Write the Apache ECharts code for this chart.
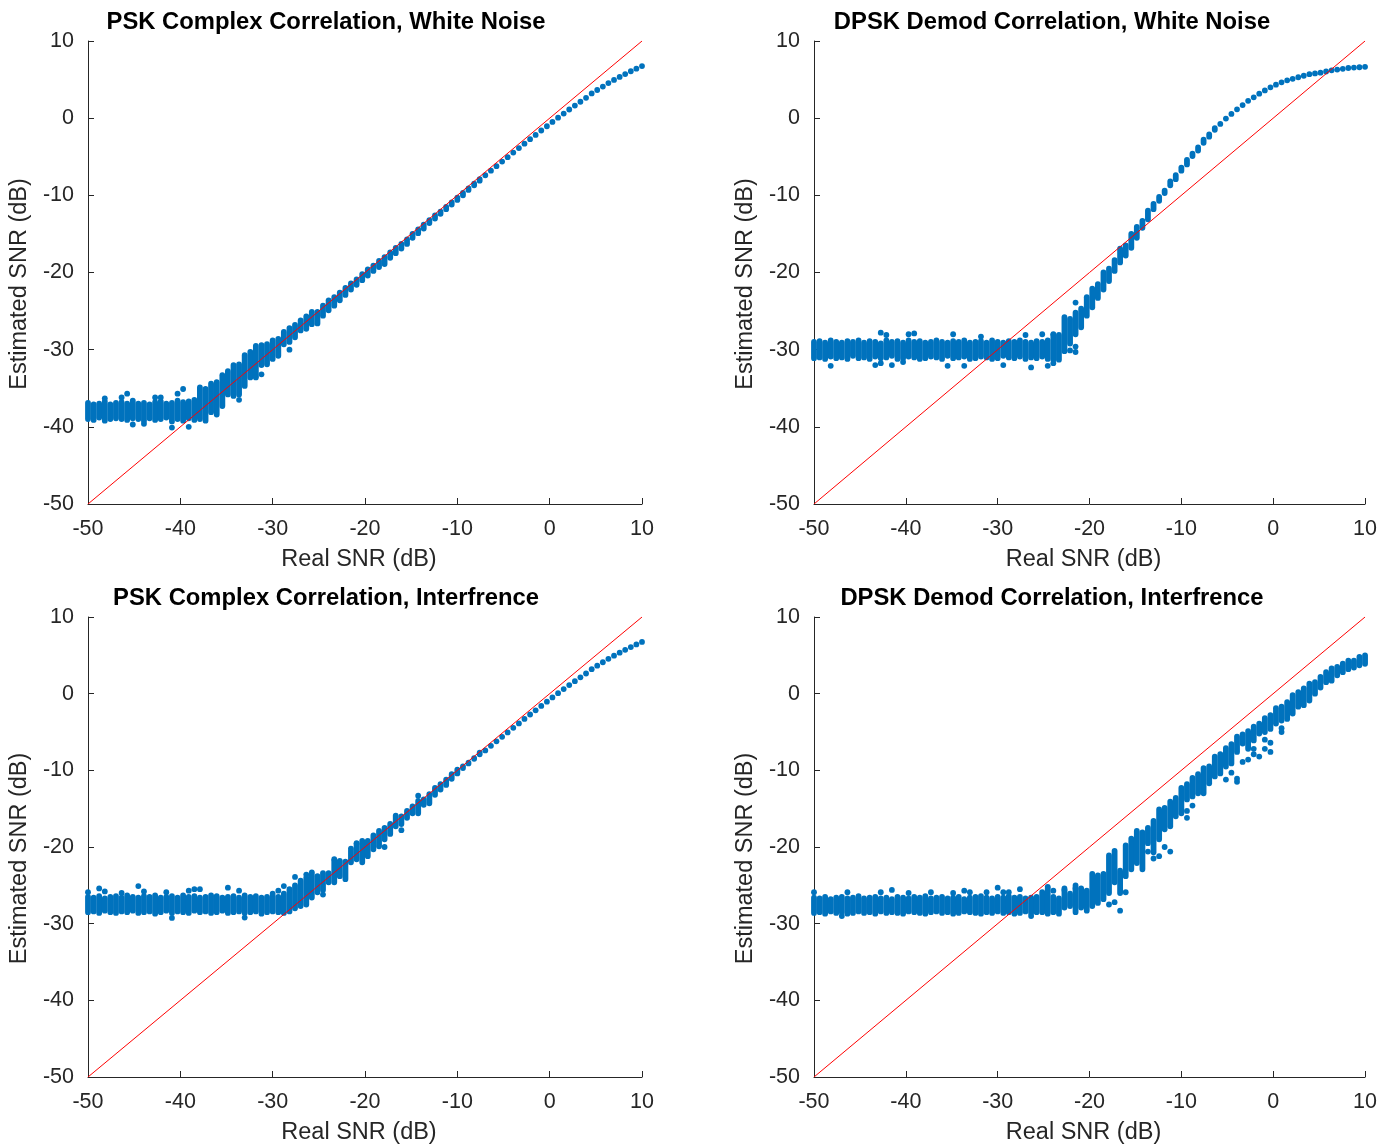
<!DOCTYPE html>
<html><head><meta charset="utf-8">
<script src="https://cdn.jsdelivr.net/npm/echarts@6/dist/echarts.min.js"></script>
<style>html,body{margin:0;padding:0;background:#fff}#c{width:1380px;height:1146px}</style>
</head><body><div id="c"></div>
<script>
// ---- axis ticks ----
const AXIS_TICKS = [-50, -40, -30, -20, -10, 0, 10];
const REF_LINE = [-50, 10];

// ---- real SNR grid (100 trial positions) ----
const SNR_REAL = [
-50.00,-49.39,-48.79,-48.18,-47.58,-46.97,-46.36,-45.76,-45.15,-44.55,
-43.94,-43.33,-42.73,-42.12,-41.52,-40.91,-40.30,-39.70,-39.09,-38.48,
-37.88,-37.27,-36.67,-36.06,-35.45,-34.85,-34.24,-33.64,-33.03,-32.42,
-31.82,-31.21,-30.61,-30.00,-29.39,-28.79,-28.18,-27.58,-26.97,-26.36,
-25.76,-25.15,-24.55,-23.94,-23.33,-22.73,-22.12,-21.52,-20.91,-20.30,
-19.70,-19.09,-18.48,-17.88,-17.27,-16.67,-16.06,-15.45,-14.85,-14.24,
-13.64,-13.03,-12.42,-11.82,-11.21,-10.61,-10.00,-9.39,-8.79,-8.18,
-7.58,-6.97,-6.36,-5.76,-5.15,-4.55,-3.94,-3.33,-2.73,-2.12,
-1.52,-0.91,-0.30,0.30,0.91,1.52,2.12,2.73,3.33,3.94,
4.55,5.15,5.76,6.36,6.97,7.58,8.18,8.79,9.39,10.00];

// ---- PSK complex correlation, white noise: lowest / highest estimate per column ----
const PSK_WN_LO = [
-39.0,-39.1,-38.8,-39.2,-39.0,-38.9,-39.0,-39.1,-38.9,-39.0,
-39.2,-38.9,-39.1,-39.0,-38.8,-39.3,-39.0,-39.2,-38.9,-39.1,
-39.0,-39.2,-38.1,-38.4,-37.3,-35.8,-36.0,-35.8,-34.7,-33.6,
-33.4,-32.0,-31.9,-31.2,-30.8,-29.3,-29.0,-28.4,-27.5,-27.3,
-26.7,-26.6,-25.6,-24.9,-24.3,-23.6,-22.9,-22.2,-21.6,-21.0,
-20.4,-19.8,-19.3,-18.9,-18.1,-17.5,-16.9,-16.3,-15.5,-14.9,
-14.3,-13.6,-13.0,-12.4,-11.8,-11.2,-10.6,-10.0,-9.3,-8.7,
-8.1,-7.4,-6.8,-6.22,-5.63,-5.05,-4.46,-3.88,-3.30,-2.72,
-2.17,-1.60,-1.05,-0.49,0.06,0.60,1.12,1.63,2.13,2.63,
3.2,3.65,4.1,4.55,4.95,5.35,5.72,6.08,6.42,6.75];
const PSK_WN_HI = [
-36.9,-37.1,-37.0,-36.7,-37.1,-36.9,-36.8,-37.0,-36.6,-37.0,
-36.9,-37.1,-36.8,-36.7,-37.0,-36.9,-36.6,-36.8,-36.7,-36.5,
-34.9,-35.1,-34.4,-34.2,-33.3,-32.8,-32.0,-31.9,-30.7,-30.3,
-29.5,-29.4,-29.3,-28.8,-28.6,-27.7,-27.2,-26.8,-26.2,-25.7,
-25.1,-25.1,-24.3,-23.6,-23.2,-22.6,-22.0,-21.4,-20.9,-20.2,
-19.6,-19.1,-18.5,-18.0,-17.4,-16.8,-16.3,-15.7,-15.0,-14.4,
-13.8,-13.2,-12.6,-12.1,-11.5,-10.9,-10.3,-9.7,-9.1,-8.5,
-7.9,-7.4,-6.8,-6.22,-5.63,-5.05,-4.46,-3.88,-3.30,-2.72,
-2.17,-1.60,-1.05,-0.49,0.06,0.60,1.12,1.63,2.13,2.63,
3.2,3.65,4.1,4.55,4.95,5.35,5.72,6.08,6.42,6.75];
const PSK_WN_OUT = [
[-48.18,-36.3],[-46.36,-36.2],[-45.76,-35.7],[-45.15,-39.7],[-43.94,-39.6],
[-42.73,-36.2],[-42.12,-36.2],[-40.91,-40.1],[-40.30,-35.7],[-39.70,-35.1],
[-39.09,-40.0],[-33.64,-36.5],[-31.82,-33.6],[-31.21,-33.2],[-28.18,-30.0]];

// ---- DPSK demod correlation, white noise ----
const DPSK_WN_LO = [
-31.1,-31.0,-31.2,-30.9,-31.1,-31.0,-31.2,-30.8,-31.1,-31.0,
-31.2,-30.9,-31.1,-31.0,-30.8,-31.2,-31.1,-30.9,-31.0,-31.2,
-31.1,-30.9,-31.0,-31.2,-30.8,-31.1,-31.0,-30.9,-31.2,-31.1,
-30.9,-31.0,-31.2,-31.1,-30.8,-31.0,-31.1,-30.9,-31.2,-31.0,
-31.1,-30.9,-31.2,-31.3,-31.3,-30.2,-29.2,-28.0,-27.1,-25.6,
-24.5,-23.3,-22.2,-21.1,-19.8,-18.7,-17.8,-16.8,-15.5,-14.2,
-13.1,-11.8,-10.7,-9.7,-8.7,-7.9,-6.8,-6.0,-4.9,-4.2,
-3.2,-2.4,-1.5,-0.75,-0.05,0.55,1.15,1.7,2.25,2.7,
3.17,3.6,4.0,4.34,4.65,4.9,5.1,5.3,5.5,5.7,
5.8,5.9,6.05,6.2,6.3,6.4,6.5,6.55,6.6,6.65];
const DPSK_WN_HI = [
-29.0,-28.9,-29.1,-28.8,-29.0,-29.1,-28.9,-29.0,-28.8,-29.1,
-28.9,-29.0,-29.2,-28.8,-29.0,-28.9,-29.1,-28.8,-29.0,-28.9,
-29.1,-29.0,-28.8,-29.0,-29.1,-28.9,-29.0,-28.8,-29.1,-29.0,
-28.9,-29.1,-28.8,-29.0,-29.1,-28.9,-29.0,-28.8,-29.0,-29.1,
-28.9,-29.0,-28.8,-28.1,-28.1,-25.8,-26.0,-25.2,-24.7,-23.2,
-22.1,-21.5,-20.0,-19.5,-18.4,-16.9,-16.5,-15.0,-14.1,-13.3,
-12.0,-11.1,-10.2,-9.4,-8.2,-7.4,-6.4,-5.4,-4.6,-3.8,
-2.8,-2.1,-1.3,-0.75,-0.05,0.55,1.15,1.7,2.25,2.7,
3.17,3.6,4.0,4.34,4.65,4.9,5.1,5.3,5.5,5.7,
5.8,5.9,6.05,6.2,6.3,6.4,6.5,6.55,6.6,6.65];
const DPSK_WN_OUT = [
[-48.18,-32.1],[-43.33,-32.0],[-42.73,-31.75],[-42.73,-27.8],[-42.12,-28.1],
[-41.52,-32.0],[-40.30,-31.6],[-39.70,-28.0],[-39.09,-27.9],[-35.45,-32.1],
[-34.85,-28.0],[-33.64,-32.1],[-31.82,-28.3],[-29.39,-32.0],[-26.97,-28.1],
[-26.36,-32.3],[-25.15,-28.0],[-24.55,-32.1],[-23.94,-31.75],[-23.94,-28.0],
[-22.12,-30.1],[-21.52,-29.6],[-21.52,-30.3],[-21.52,-23.9]];

// ---- PSK complex correlation, interference ----
const PSK_INT_LO = [
-28.5,-28.4,-28.6,-28.3,-28.5,-28.6,-28.4,-28.5,-28.3,-28.6,
-28.5,-28.4,-28.7,-28.5,-28.3,-28.6,-28.4,-28.5,-28.6,-28.3,
-28.5,-28.4,-28.6,-28.5,-28.3,-28.6,-28.5,-28.4,-28.6,-28.5,
-28.4,-28.7,-28.5,-28.4,-28.5,-28.6,-28.4,-28.0,-27.7,-27.5,
-26.6,-25.9,-25.6,-24.6,-24.6,-23.8,-24.2,-22.0,-21.6,-22.0,
-21.2,-20.3,-19.9,-19.0,-18.3,-17.3,-17.0,-16.2,-15.6,-15.6,
-14.5,-14.3,-13.2,-12.5,-11.9,-11.1,-10.4,-9.7,-9.1,-8.5,
-7.9,-7.40,-6.80,-6.22,-5.63,-5.05,-4.46,-3.88,-3.30,-2.72,
-2.17,-1.60,-1.05,-0.49,0.06,0.60,1.12,1.63,2.13,2.63,
3.2,3.65,4.1,4.55,4.95,5.35,5.72,6.08,6.42,6.75];
const PSK_INT_HI = [
-26.5,-26.6,-26.4,-26.7,-26.5,-26.4,-26.6,-26.3,-26.5,-26.6,
-26.4,-26.5,-26.3,-26.6,-26.5,-26.4,-26.6,-26.3,-26.5,-26.4,
-26.6,-26.5,-26.3,-26.4,-26.6,-26.5,-26.4,-26.6,-26.3,-26.5,
-26.4,-26.6,-26.5,-26.4,-26.5,-26.1,-25.5,-25.0,-24.4,-24.0,
-23.6,-23.8,-23.4,-23.4,-21.8,-21.8,-21.9,-20.5,-19.6,-19.2,
-19.2,-18.5,-17.9,-17.5,-17.0,-15.9,-16.0,-15.3,-14.7,-14.0,
-13.8,-13.1,-12.3,-11.8,-11.2,-10.5,-9.9,-9.5,-9.0,-8.4,
-7.7,-7.40,-6.80,-6.22,-5.63,-5.05,-4.46,-3.88,-3.30,-2.72,
-2.17,-1.60,-1.05,-0.49,0.06,0.60,1.12,1.63,2.13,2.63,
3.2,3.65,4.1,4.55,4.95,5.35,5.72,6.08,6.42,6.75];
const PSK_INT_OUT = [
[-50.00,-25.9],[-48.79,-25.4],[-48.18,-25.8],[-46.36,-26.0],[-44.55,-25.1],
[-43.94,-25.8],[-41.52,-25.9],[-40.91,-29.25],[-39.09,-25.7],[-38.48,-25.5],
[-37.88,-25.5],[-34.85,-25.3],[-33.64,-25.7],[-33.03,-29.2],[-30.00,-26.1],
[-29.39,-25.7],[-28.79,-25.1],[-27.58,-23.9],[-26.36,-23.6],[-25.76,-23.3],
[-24.55,-26.2],[-23.33,-21.6],[-21.52,-20.2],[-20.91,-19.5],[-17.88,-20.0],
[-16.06,-17.8],[-14.24,-13.3]];

// ---- DPSK demod correlation, interference ----
const DPSK_INT_LO = [
-28.6,-28.5,-28.7,-28.4,-28.6,-28.5,-28.7,-28.6,-28.4,-28.6,
-28.5,-28.7,-28.4,-28.6,-28.5,-28.6,-28.7,-28.4,-28.5,-28.6,
-28.7,-28.5,-28.4,-28.6,-28.5,-28.7,-28.6,-28.4,-28.5,-28.6,
-28.7,-28.5,-28.6,-28.4,-28.6,-28.5,-28.7,-28.6,-28.4,-28.6,
-28.5,-28.5,-28.7,-28.5,-28.7,-27.9,-27.7,-28.5,-27.9,-28.3,
-27.7,-27.3,-26.8,-26.0,-24.6,-26.0,-23.8,-22.9,-22.1,-22.9,
-19.5,-20.7,-19.0,-17.7,-17.3,-16.0,-15.6,-13.8,-13.4,-13.0,
-13.0,-11.7,-10.8,-10.4,-9.5,-9.1,-7.6,-6.5,-7.2,-6.1,
-5.2,-5.0,-4.6,-3.9,-3.5,-3.3,-2.6,-1.7,-1.5,-0.9,
0.0,0.8,1.5,1.7,2.4,2.8,3.2,3.4,3.7,3.9];
const DPSK_INT_HI = [
-26.6,-26.7,-26.5,-26.8,-26.6,-26.5,-26.7,-26.6,-26.4,-26.7,
-26.6,-26.5,-26.7,-26.6,-26.8,-26.5,-26.6,-26.7,-26.5,-26.6,
-26.4,-26.7,-26.6,-26.5,-26.7,-26.6,-26.5,-26.8,-26.6,-26.5,
-26.4,-26.6,-26.7,-26.5,-26.6,-26.4,-26.6,-26.5,-26.7,-26.6,
-26.5,-25.9,-25.4,-26.5,-26.7,-25.4,-26.1,-25.0,-25.4,-25.7,
-23.5,-23.7,-23.5,-21.1,-20.5,-23.1,-19.8,-18.9,-17.9,-18.1,
-17.5,-16.6,-15.1,-14.9,-14.1,-13.6,-12.3,-11.8,-11.0,-10.5,
-9.7,-9.5,-8.2,-7.9,-7.1,-6.6,-5.6,-5.3,-4.9,-4.3,
-3.9,-3.2,-2.8,-1.9,-1.7,-1.1,-0.2,0.2,0.7,1.3,
1.5,2.2,2.8,3.3,3.5,3.9,4.3,4.3,4.8,5.0];
const DPSK_INT_OUT = [
[-50.00,-25.9],[-46.97,-29.0],[-46.36,-25.9],[-42.73,-25.9],[-41.52,-25.6],
[-39.70,-26.0],[-37.27,-25.9],[-34.85,-26.0],[-33.64,-25.7],[-33.03,-25.9],
[-31.21,-25.9],[-30.00,-25.3],[-29.39,-25.9],[-28.79,-25.9],[-27.58,-25.5],
[-26.36,-29.0],[-24.55,-25.2],[-23.94,-25.7],[-22.73,-25.6],[-21.52,-25.4],
[-17.88,-27.5],[-17.27,-27.2],[-16.67,-28.3],[-16.06,-25.9],[-13.64,-20.6],
[-13.03,-21.5],[-12.42,-21.2],[-11.82,-20.0],[-11.21,-20.6],[-9.39,-15.3],
[-9.39,-16.2],[-8.79,-14.6],[-5.15,-11.2],[-4.55,-10.3],[-3.94,-11.1],
[-3.94,-11.5],[-3.33,-8.9],[-2.73,-8.6],[-2.12,-7.2],[-2.12,-7.9],
[-1.52,-8.2],[-0.91,-6.0],[-0.91,-7.2],[-0.30,-6.4],[-0.30,-7.6],
[0.91,-4.5],[0.91,-5.0]];

const TITLES = [
  'PSK Complex Correlation, White Noise',
  'DPSK Demod Correlation, White Noise',
  'PSK Complex Correlation, Interfrence',
  'DPSK Demod Correlation, Interfrence'];
const X_NAME = 'Real SNR (dB)';
const Y_NAME = 'Estimated SNR (dB)';

const PANELS = [
  {lo: PSK_WN_LO, hi: PSK_WN_HI, out: PSK_WN_OUT},
  {lo: DPSK_WN_LO, hi: DPSK_WN_HI, out: DPSK_WN_OUT},
  {lo: PSK_INT_LO, hi: PSK_INT_HI, out: PSK_INT_OUT},
  {lo: DPSK_INT_LO, hi: DPSK_INT_HI, out: DPSK_INT_OUT}];

// ---- layout (not data) ----
const LAYOUT = [
  {left: 88, top: 41, width: 554, height: 463, titleX: 326, titleY: 10},
  {left: 814, top: 41, width: 555, height: 463, titleX: 1052, titleY: 10},
  {left: 88, top: 617, width: 554, height: 463, titleX: 326, titleY: 586},
  {left: 814, top: 617, width: 555, height: 463, titleX: 1052, titleY: 586}];

const DOT = '#0072BD';
const AX = '#262626';
const FONT = 'Liberation Sans, Arial, Helvetica, sans-serif';
const R = 2.9;

const option = {
  animation: false,
  backgroundColor: '#fff',
  title: [], grid: [], xAxis: [], yAxis: [], series: []
};

PANELS.forEach((p, i) => {
  const L = LAYOUT[i];
  option.title.push({
    text: TITLES[i], left: L.titleX, top: L.titleY, textAlign: 'center', padding: 0,
    textStyle: {fontFamily: FONT, fontSize: 23.8, fontWeight: 'bold', color: '#000'}
  });
  option.grid.push({left: L.left, top: L.top, width: L.width, height: L.height, containLabel: false});
  const axisCommon = {
    gridIndex: i, type: 'value',
    min: AXIS_TICKS[0], max: AXIS_TICKS[AXIS_TICKS.length - 1],
    interval: AXIS_TICKS[1] - AXIS_TICKS[0],
    splitLine: {show: false},
    axisLine: {show: true, onZero: false, lineStyle: {color: AX, width: 1}},
    axisTick: {show: true, inside: true, length: 6, lineStyle: {color: AX, width: 1}},
    nameLocation: 'middle',
  };
  option.xAxis.push(Object.assign({}, axisCommon, {
    name: X_NAME, nameGap: 44,
    nameTextStyle: {fontFamily: FONT, fontSize: 23.5, color: AX, padding: [0, 12, 0, 0]},
    axisLabel: {color: AX, fontFamily: FONT, fontSize: 21.5, margin: 14}
  }));
  option.yAxis.push(Object.assign({}, axisCommon, {
    name: Y_NAME, nameGap: 56,
    nameTextStyle: {fontFamily: FONT, fontSize: 23.5, color: AX, padding: [0, 23, 0, 0]},
    axisLabel: {color: AX, fontFamily: FONT, fontSize: 21.5, margin: 14}
  }));
  const band = SNR_REAL.map((x, k) => [x, p.lo[k], p.hi[k]]);
  option.series.push({
    type: 'custom', xAxisIndex: i, yAxisIndex: i, silent: true, z: 2,
    encode: {x: 0, y: [1, 2]},
    data: band,
    renderItem: function (params, api) {
      const x = api.value(0), lo = api.value(1), hi = api.value(2);
      const top = api.coord([x, hi]);
      const bot = api.coord([x, lo]);
      return {
        type: 'rect',
        shape: {x: top[0] - R, y: top[1] - R, width: 2 * R, height: bot[1] - top[1] + 2 * R, r: R},
        style: {fill: DOT}
      };
    }
  });
  option.series.push({
    type: 'scatter', xAxisIndex: i, yAxisIndex: i, silent: true, z: 2,
    symbol: 'circle', symbolSize: 2 * R, itemStyle: {color: DOT, opacity: 1},
    data: p.out
  });
  option.series.push({
    type: 'line', xAxisIndex: i, yAxisIndex: i, silent: true, z: 5,
    symbol: 'none', lineStyle: {color: '#FF0000', width: 1},
    data: [[REF_LINE[0], REF_LINE[0]], [REF_LINE[1], REF_LINE[1]]]
  });
});

const chart = echarts.init(document.getElementById('c'), null, {renderer: 'canvas'});
chart.setOption(option);
</script></body></html>
